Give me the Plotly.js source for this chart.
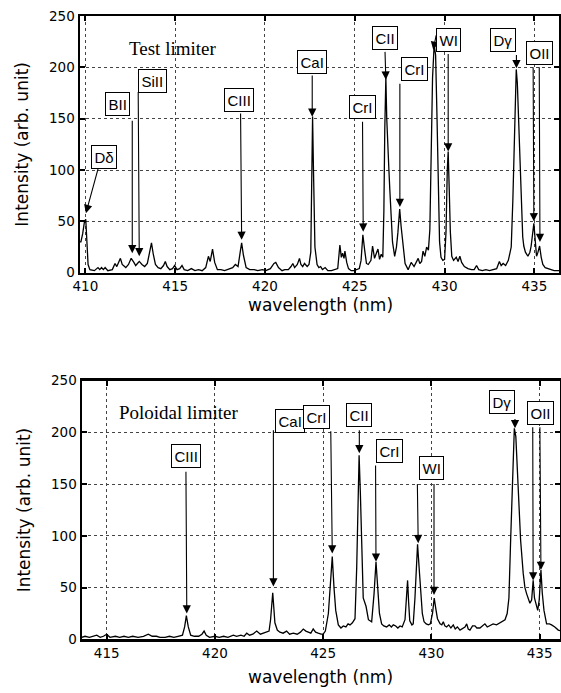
<!DOCTYPE html>
<html>
<head>
<meta charset="utf-8">
<script src="https://cdn.plot.ly/plotly-3.0.1.min.js"></script>
<style>html,body{margin:0;padding:0;background:#fff;}#chart{width:561px;height:693px;}</style>
</head>
<body>
<div id="chart"></div>
<script>
// ---------- Test limiter spectrum ----------
const testWavelength = [409.7,409.75,409.85,409.95,410.02,410.08,410.15,410.25,410.5,410.7,410.8,410.9,411.0,411.1,411.25,411.5,411.65,411.75,411.85,411.95,412.05,412.25,412.4,412.55,412.7,412.8,412.9,413.0,413.15,413.3,413.45,413.6,413.68,413.78,413.9,414.05,414.2,414.35,414.45,414.55,414.7,414.85,414.97,415.1,415.25,415.38,415.5,415.7,415.9,416.1,416.3,416.5,416.7,416.85,416.95,417.08,417.2,417.35,417.55,417.75,417.95,418.2,418.35,418.5,418.62,418.7,418.8,418.95,419.15,419.4,419.6,419.85,420.05,420.3,420.5,420.6,420.75,420.95,421.1,421.3,421.45,421.55,421.65,421.8,421.92,422.0,422.1,422.2,422.35,422.45,422.55,422.6,422.65,422.7,422.78,422.9,423.0,423.1,423.2,423.35,423.5,423.7,423.9,424.05,424.17,424.25,424.32,424.4,424.45,424.55,424.65,424.8,424.95,425.1,425.25,425.35,425.45,425.55,425.65,425.75,425.9,425.99,426.1,426.22,426.29,426.38,426.47,426.56,426.62,426.67,426.73,426.78,426.85,426.9,426.95,427.02,427.1,427.22,427.32,427.4,427.5,427.58,427.68,427.8,427.97,428.14,428.3,428.45,428.53,428.62,428.72,428.8,428.9,429.0,429.1,429.18,429.26,429.33,429.42,429.5,429.58,429.65,429.72,429.8,429.9,430.0,430.08,430.15,430.2,430.26,430.32,430.4,430.5,430.65,430.75,430.85,430.95,431.1,431.3,431.5,431.65,431.78,431.9,432.1,432.3,432.5,432.7,432.9,433.05,433.15,433.26,433.4,433.55,433.64,433.71,433.8,433.86,433.93,433.99,434.05,434.12,434.2,434.27,434.35,434.41,434.5,434.64,434.75,434.82,434.9,434.97,435.03,435.12,435.2,435.29,435.38,435.47,435.6,435.75,435.9,436.1,436.4];
const testIntensity = [30,30,38,50,52,25,8,3,2,5,3,5,3,5,2,3,9,6,10,14,8,5,8,14,10,7,9,11,8,6,9,22,29,18,8,5,4,7,11,6,3,4,7,3,4,7,3,2,4,2,3,2,5,16,11,23,10,3,3,2,3,5,8,6,20,29,17,5,3,3,2,3,2,4,9,10,5,2,3,3,6,9,5,8,14,8,6,9,6,8,20,110,152,100,25,8,5,6,3,5,2,2,3,4,27,15,19,14,21,10,4,2,2,3,4,12,37,22,9,8,12,26,14,20,23,13,18,15,60,140,190,150,110,100,81,50,30,16,25,39,62,45,26,9,3,10,6,12,14,9,11,21,16,25,22,42,120,190,222,212,150,80,30,15,12,13,40,100,118,80,40,16,12,15,11,16,10,6,4,3,3,7,3,2,3,2,3,4,11,7,9,7,12,19,25,70,120,175,198,185,152,100,62,35,26,20,16,20,26,38,48,35,16,20,26,15,8,5,4,3,2,2];

// ---------- Poloidal limiter spectrum ----------
const poloidalWavelength = [413.85,414.0,414.2,414.4,414.54,414.7,414.85,415.0,415.15,415.4,415.6,415.8,416.0,416.2,416.45,416.7,416.92,417.1,417.3,417.46,417.7,417.9,418.1,418.3,418.5,418.6,418.68,418.77,418.88,419.05,419.25,419.4,419.5,419.6,419.75,420.0,420.2,420.4,420.6,420.85,421.0,421.2,421.35,421.47,421.6,421.75,421.93,422.1,422.25,422.39,422.5,422.57,422.67,422.77,422.88,423.0,423.15,423.31,423.45,423.62,423.8,423.95,424.08,424.2,424.31,424.43,424.54,424.65,424.77,424.9,425.0,425.1,425.24,425.33,425.42,425.5,425.58,425.7,425.82,425.93,426.05,426.15,426.24,426.35,426.47,426.55,426.6,426.66,426.72,426.78,426.85,426.98,427.09,427.24,427.35,427.44,427.52,427.6,427.7,427.8,427.93,428.05,428.15,428.24,428.35,428.45,428.55,428.65,428.78,428.85,428.9,428.95,429.0,429.1,429.16,429.24,429.29,429.36,429.43,429.5,429.58,429.66,429.76,429.86,429.95,430.05,430.13,430.2,430.28,430.4,430.48,430.55,430.62,430.7,430.8,430.9,431.01,431.1,431.2,431.32,431.45,431.55,431.63,431.7,431.78,431.9,432.01,432.1,432.24,432.35,432.47,432.58,432.7,432.85,433.01,433.15,433.28,433.4,433.5,433.58,433.66,433.75,433.83,433.9,433.96,434.01,434.12,434.24,434.32,434.4,434.5,434.55,434.63,434.7,434.76,434.84,434.91,434.98,435.06,435.12,435.2,435.32,435.45,435.55,435.7,435.86,436.0];
const poloidalIntensity = [2,3,2,3,4,2,3,5,2,3,2,3,2,3,2,3,5,3,3,2,2,3,2,3,4,12,23,12,4,3,3,5,8,4,2,3,2,3,2,4,3,4,3,6,4,5,8,5,6,7,8,19,45,16,9,7,6,8,5,6,5,7,10,8,7,6,10,7,6,5,5,8,25,55,80,50,28,14,11,13,12,15,14,16,20,70,120,178,140,80,40,32,19,17,44,75,45,25,15,13,12,14,12,14,13,11,13,12,19,40,57,35,18,14,15,40,64,92,70,44,25,17,15,14,15,25,40,30,20,15,14,17,13,12,14,11,14,10,12,9,11,12,15,10,9,13,13,11,11,13,15,12,13,15,14,16,17,19,25,40,96,167,204,196,170,144,96,64,50,44,38,35,38,57,40,32,28,38,67,45,28,15,15,14,12,9,8];

// ---------- Line labels (Test limiter) ----------
const testLabels      = ['D\u03b4','BII','SiII','CIII','CaI','CrI','CII','CrI','WI','D\u03b3','OII'];
const testLabelWl     = [411.04,411.77,413.76,418.54,422.64,425.42,426.69,428.30,430.20,433.24,435.26];
const testLabelInt    = [113,164,187,168,205,161,229,198,227,226.6,214];
const testArrowTailWl  = [410.75,412.61,412.94,418.64,422.63,425.43,426.68,427.51,429.55,430.20,434.00,434.93,435.27];
const testArrowTailInt = [104,150,178,157,194,149,217,186,233,215,214,202,202];
const testArrowTipWl   = [410.03,412.61,413.00,418.70,422.63,425.47,426.73,427.51,429.37,430.20,434.00,434.97,435.31];
const testArrowTipInt  = [58,19,16,32,152,40,188,64,217,118,199,50,30];

// ---------- Line labels (Poloidal limiter) ----------
const polLabels      = ['CIII','CaI','CrI','CII','CrI','WI','D\u03b3','OII'];
const polLabelWl     = [418.66,423.47,424.71,426.64,428.07,430.01,433.24,435.03];
const polLabelInt    = [177,211,215,217,182,166,229,219];
const polArrowTailWl  = [418.66,422.70,425.35,426.67,427.42,429.35,430.12,433.86,434.68,435.01];
const polArrowTailInt = [164,204,203,204,170,152,152,215,207,207];
const polArrowTipWl   = [418.70,422.70,425.42,426.67,427.44,429.39,430.12,433.86,434.70,435.06];
const polArrowTipInt  = [25,51,83,180,75,93,43,204,57,67];

const panelTitles = ['Test limiter','Poloidal limiter'];
const panelTitleWl = [414.87,418.34];
const panelTitleInt = [218,219];

const xTitle = 'wavelength (nm)';
const yTitle = 'Intensity (arb. unit)';

// ---------- build ----------
const traces = [
  {x: testWavelength, y: testIntensity, xaxis:'x', yaxis:'y', type:'scatter', mode:'lines',
   line:{color:'#000', width:1.3}, hoverinfo:'skip', showlegend:false},
  {x: poloidalWavelength, y: poloidalIntensity, xaxis:'x2', yaxis:'y2', type:'scatter', mode:'lines',
   line:{color:'#000', width:1.3}, hoverinfo:'skip', showlegend:false}
];

const annotations = [];
function addLabels(labels, wl, inten, xr, yr){
  labels.forEach((t,i)=>{
    annotations.push({xref:xr, yref:yr, x:wl[i], y:inten[i], text:t, showarrow:false,
      font:{family:'Liberation Sans, Arial, sans-serif', size:15, color:'#000'},
      bgcolor:'#fff', bordercolor:'#000', borderwidth:1, borderpad:2.5});
  });
}
function addArrows(tw, ti, hw, hi, xr, yr){
  tw.forEach((_,i)=>{
    annotations.push({xref:xr, yref:yr, axref:xr, ayref:yr, x:hw[i], y:hi[i], ax:tw[i], ay:ti[i],
      text:' ', font:{size:1}, showarrow:true, arrowhead:2, arrowsize:1.5, arrowwidth:1.1,
      arrowcolor:'#000', standoff:0, startstandoff:0});
  });
}
addArrows(testArrowTailWl, testArrowTailInt, testArrowTipWl, testArrowTipInt, 'x', 'y');
addArrows(polArrowTailWl, polArrowTailInt, polArrowTipWl, polArrowTipInt, 'x2', 'y2');
addLabels(testLabels, testLabelWl, testLabelInt, 'x', 'y');
addLabels(polLabels, polLabelWl, polLabelInt, 'x2', 'y2');
panelTitles.forEach((t,i)=>{
  annotations.push({xref: i===0?'x':'x2', yref: i===0?'y':'y2', x:panelTitleWl[i], y:panelTitleInt[i],
    text:t, showarrow:false, font:{family:'Liberation Serif, Times New Roman, serif', size:19, color:'#000'}});
});

const tickFont = {family:'DejaVu Sans, sans-serif', size:13.5, color:'#000'};
const titleFont = {family:'DejaVu Sans, sans-serif', size:17, color:'#000'};
// x-axis titles placed as text below each panel
[0.5369, -0.0593].forEach((p)=>{
  annotations.push({xref:'paper', yref:'paper', x:0.5, y:p, xanchor:'center', yanchor:'middle',
    text:xTitle, showarrow:false, font:titleFont});
});

function xAx(domain, range, anchor){
  return {domain:domain, range:range, anchor:anchor, dtick:5, tick0:410, ticks:'inside', ticklen:5, tickwidth:2,
    tickcolor:'#000', showline:true, linewidth:2.5, linecolor:'#000', mirror:'ticks',
    showgrid:true, gridcolor:'#444', griddash:'dot', gridwidth:1, zeroline:false,
    tickfont:tickFont, fixedrange:true};
}
function yAx(domain, anchor){
  return {domain:domain, range:[0,250], anchor:anchor, dtick:50, tick0:0, ticks:'inside', ticklen:5, tickwidth:2,
    tickcolor:'#000', showline:true, linewidth:2.5, linecolor:'#000', mirror:'ticks',
    showgrid:true, gridcolor:'#444', griddash:'dot', gridwidth:1, zeroline:false,
    tickfont:tickFont, title:{text:yTitle, font:titleFont, standoff:16}, fixedrange:true};
}

const layout = {
  width:561, height:693,
  margin:{l:80, r:1, t:16, b:53},
  paper_bgcolor:'#fff', plot_bgcolor:'#fff',
  showlegend:false,
  xaxis: xAx([0,0.9979],[409.7,436.37],'y'),
  yaxis: yAx([0.5886,1],'x'),
  xaxis2: xAx([0.0042,1],[413.86,435.94],'y2'),
  yaxis2: yAx([0.001,0.4155],'x2'),
  annotations: annotations
};

Plotly.newPlot('chart', traces, layout, {staticPlot:true, displayModeBar:false});
</script>
</body>
</html>
